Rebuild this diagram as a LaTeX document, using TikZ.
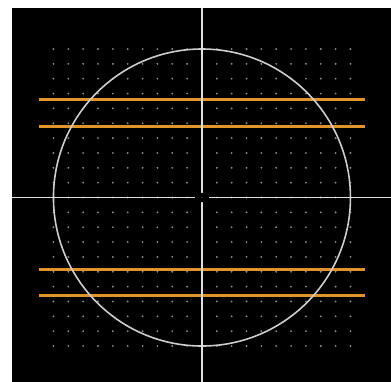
\documentclass[tikz,border=0pt]{standalone}
\usetikzlibrary{calc}
\definecolor{gridgray}{RGB}{140,140,140}
\definecolor{cutorange}{RGB}{225,148,42}
\definecolor{ringgray}{RGB}{205,205,205}
\begin{document}
\begin{tikzpicture}[x=14.85pt,y=14.85pt,
  axis/.style={draw=white!88!black,line width=1.6pt},
  ring/.style={draw=ringgray,line width=1.6pt},
  cut/.style={draw=cutorange,line width=2.8pt},
  gdot/.style={fill=gridgray}]
\useasboundingbox (-13.60,-12.42) rectangle (12.73,13.30);
\fill[black] (-12.79,-12.42) rectangle (12.73,12.76);
\coordinate (O) at (0,0);
\coordinate (xl) at (-12.79,0); \coordinate (xr) at (12.73,0);
\coordinate (yt) at (0,12.76);  \coordinate (yb) at (0,-12.42);
% grid of dots
\foreach \i in {-10,...,10}
  \foreach \j in {-10,...,10}
    \fill[gdot] (\i,\j) circle (0.07);
% cut lines
\foreach \h in {6.58,4.79,-4.84,-6.6}
  \draw[cut] (-11,\h) -- (11,\h);
\draw[ring] (O) circle (10);
\draw[axis] (xl) -- (xr);
\draw[axis] (yt) -- (yb);
\fill[black] (O) ellipse (0.47 and 0.31);
\fill[gray!35!black] (O) circle (0.07);
\end{tikzpicture}
\end{document}
